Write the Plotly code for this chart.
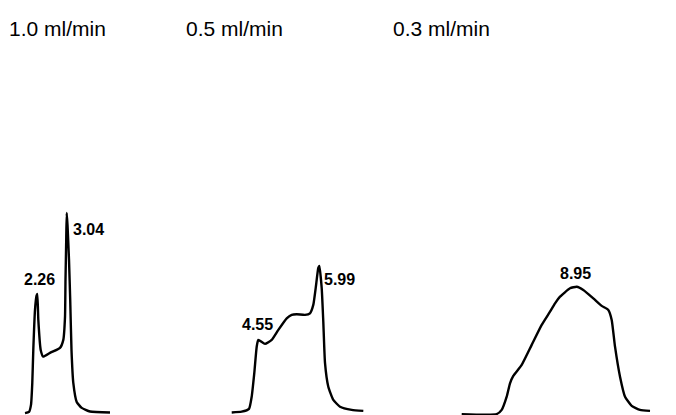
import plotly.graph_objects as go

# ---- data: three chromatograms (time in min, relative absorbance) ----
flow_rates = ["1.0 ml/min", "0.5 ml/min", "0.3 ml/min"]

t1 = [1.934, 2.040, 2.093, 2.127, 2.154, 2.199, 2.239, 2.26, 2.287, 2.350, 2.419,
      2.597, 2.862, 2.950, 2.995, 3.008, 3.027, 3.04, 3.061, 3.101, 3.133, 3.167,
      3.215, 3.305, 3.438, 3.658, 4.188]
a1 = [-0.003, 0.003, 0.038, 0.148, 0.313, 0.513, 0.583, 0.593, 0.463, 0.313, 0.279,
      0.298, 0.323, 0.363, 0.478, 0.663, 0.863, 0.998, 0.938, 0.763, 0.563, 0.313,
      0.148, 0.053, 0.023, 0.005, 0.0]

t2 = [3.923, 4.158, 4.331, 4.394, 4.456, 4.512, 4.55, 4.708, 4.866, 5.022, 5.220,
      5.338, 5.456, 5.651, 5.769, 5.847, 5.904, 5.965, 5.99, 6.045, 6.083, 6.123,
      6.201, 6.319, 6.477, 6.753, 7.027]
a2 = [0.0, 0.004, 0.018, 0.079, 0.198, 0.329, 0.363, 0.343, 0.363, 0.413, 0.471,
      0.488, 0.491, 0.488, 0.496, 0.538, 0.623, 0.723, 0.733, 0.623, 0.454, 0.248,
      0.129, 0.063, 0.029, 0.013, 0.008]

t3 = [6.075, 6.95, 7.075, 7.2, 7.283, 7.365, 7.575, 7.825, 8.075, 8.283, 8.408,
      8.533, 8.783, 8.95, 9.115, 9.365, 9.575, 9.74, 9.825, 9.908, 10.033, 10.158,
      10.325, 10.533, 10.783]
a3 = [-0.008, -0.008, 0.013, 0.079, 0.146, 0.183, 0.238, 0.338, 0.438, 0.504, 0.546,
      0.579, 0.621, 0.629, 0.613, 0.571, 0.533, 0.513, 0.463, 0.329, 0.179, 0.079,
      0.033, 0.013, 0.008]

peak_times = [[2.26, 3.04], [4.55, 5.99], [8.95]]
peak_heights = [[0.593, 0.998], [0.363, 0.733], [0.629]]
peak_labels = [["2.26", "3.04"], ["4.55", "5.99"], ["8.95"]]

# ---- layout geometry (screen pixels) ----
W, H = 676, 415
OFF = 8                               # page body margin of the html page
px_per_min = [37.7, 42.4, 40.0]       # chart-speed of each panel
anchor_px = [37.3, 258.3, 576.7]      # screen x of first labelled peak in each panel
y_base_px, px_per_unit = 412.5, 200.0

fig = go.Figure()
series = [(t1, a1), (t2, a2), (t3, a3)]
axnames = ["x", "x2", "x3"]
for (t, a), ax in zip(series, axnames):
    fig.add_trace(go.Scatter(x=t, y=a, xaxis=ax, yaxis="y", mode="lines",
                             line=dict(color="black", width=2.4, shape="spline", smoothing=0.45),
                             showlegend=False, hoverinfo="skip"))

xaxes = {}
for i, ax in enumerate(axnames):
    tp = peak_times[i][0]
    xp = anchor_px[i] - OFF
    s = px_per_min[i]
    rng = [tp - xp / s, tp + (W - xp) / s]
    key = "xaxis" if i == 0 else f"xaxis{i+1}"
    d = dict(range=rng, visible=False, showgrid=False, zeroline=False, domain=[0, 1])
    if i > 0:
        d["overlaying"] = "x"
    xaxes[key] = d

yb = y_base_px - OFF
y_range = [-(H - yb) / px_per_unit, yb / px_per_unit]

annotations = []
# panel titles
title_px = [57, 234, 442]
for txt, xp in zip(flow_rates, title_px):
    annotations.append(dict(text=txt, x=(xp - OFF) / W, y=1 - (28 - OFF) / H,
                            xref="paper", yref="paper",
                            showarrow=False, xanchor="center", yanchor="middle",
                            font=dict(family="Liberation Sans, Arial", size=21, color="black")))

# peak labels: offsets in pixels relative to peak apex
offsets = [[(2, 14), (22, -17)], [(-1, 15), (20, -14)], [(-1, 13)]]
for i, ax in enumerate(axnames):
    for t, h, lab, (dx, dy) in zip(peak_times[i], peak_heights[i], peak_labels[i], offsets[i]):
        annotations.append(dict(text=f"<b>{lab}</b>", x=t, y=h, xref=ax, yref="y",
                                showarrow=False, xanchor="center", yanchor="middle",
                                xshift=dx, yshift=dy,
                                font=dict(family="Liberation Sans, Arial", size=16, color="black")))

fig.update_layout(width=W, height=H, margin=dict(l=0, r=0, t=0, b=0, pad=0),
                  paper_bgcolor="white", plot_bgcolor="white",
                  yaxis=dict(range=y_range, visible=False, showgrid=False, zeroline=False),
                  annotations=annotations, **xaxes)

fig.write_html("out.html")
